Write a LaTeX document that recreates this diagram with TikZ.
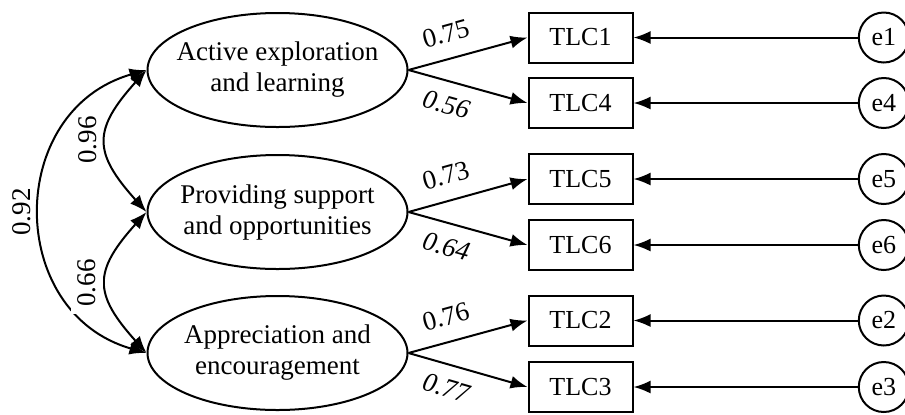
\documentclass[tikz,border=0pt]{standalone}
\usepackage{fontspec}
\setmainfont{Liberation Serif}
\usetikzlibrary{arrows.meta,shapes.geometric}

\tikzset{
  factor/.style={draw, ellipse, minimum width=130pt, minimum height=57pt, inner xsep=-8pt, inner ysep=0pt, align=center, font=\fontsize{13.5}{15.5}\selectfont},
  item/.style={draw, rectangle, minimum width=52pt, minimum height=25pt, inner sep=0pt, font=\fontsize{13}{15}\selectfont},
  err/.style={draw, circle, minimum size=25pt, inner sep=0pt, font=\fontsize{13}{15}\selectfont},
  coef/.style={font=\fontsize{13.5}{15}\selectfont, inner sep=1.5pt},
}

\begin{document}
\begin{tikzpicture}[x=0.5pt, y=0.5pt, line width=1pt, >={Latex[length=8.5pt,width=6.5pt]}]
  \useasboundingbox (0,0) rectangle (905,-414);
  % factors
  \node[factor] (a1) at (277.5,-70) {Active exploration\\and learning};
  \node[factor] (a2) at (277.5,-212) {Providing support\\and opportunities};
  \node[factor] (a3) at (277.5,-353) {Appreciation and\\encouragement};
  % items
  \node[item] (t1) at (580.5,-37.5) {TLC1};
  \node[item] (t4) at (580.5,-103) {TLC4};
  \node[item] (t5) at (580.5,-179) {TLC5};
  \node[item] (t6) at (580.5,-245) {TLC6};
  \node[item] (t2) at (580.5,-320.5) {TLC2};
  \node[item] (t3) at (580.5,-387) {TLC3};
  % errors
  \node[err] (e1) at (883.8,-37.5) {e1};
  \node[err] (e4) at (883.8,-103) {e4};
  \node[err] (e5) at (883.8,-179) {e5};
  \node[err] (e6) at (883.8,-245) {e6};
  \node[err] (e2) at (883.8,-320.5) {e2};
  \node[err] (e3) at (883.8,-387) {e3};
  % loadings
  \draw[->] (a1.east)--(t1.west) node[coef, pos=0.37, sloped, above=6pt] (l1) {0.75};
  \draw[->] (a1.east)--(t4.west) node[coef, pos=0.37, sloped, below=5pt] (l4) {\itshape 0.56};
  \draw[->] (a2.east)--(t5.west) node[coef, pos=0.37, sloped, above=6pt] (l5) {0.73};
  \draw[->] (a2.east)--(t6.west) node[coef, pos=0.37, sloped, below=5pt] (l6) {\itshape 0.64};
  \draw[->] (a3.east)--(t2.west) node[coef, pos=0.37, sloped, above=6pt] (l2) {0.76};
  \draw[->] (a3.east)--(t3.west) node[coef, pos=0.37, sloped, below=5pt] (l3) {\itshape 0.77};
  % residuals
  \draw[->] (e1)--(t1);
  \draw[->] (e4)--(t4);
  \draw[->] (e5)--(t5);
  \draw[->] (e6)--(t6);
  \draw[->] (e2)--(t2);
  \draw[->] (e3)--(t3);
  % correlations
  \draw[<->] (a1.west) to[out=196, in=164, looseness=1.33] (a3.west);
  \draw[<->] (a1.west) to[out=228, in=132, looseness=1.45] (a2.west);
  \draw[<->] (a2.west) to[out=228, in=132, looseness=1.45] (a3.west);
  \node[coef, rotate=90] (c12) at (88,-140) {0.96};
  \node[coef, rotate=90, fill=white, inner sep=3.5pt] (c23) at (87,-283) {0.66};
  \node[coef, rotate=90] (c13) at (22,-212) {0.92};
\end{tikzpicture}
\end{document}
